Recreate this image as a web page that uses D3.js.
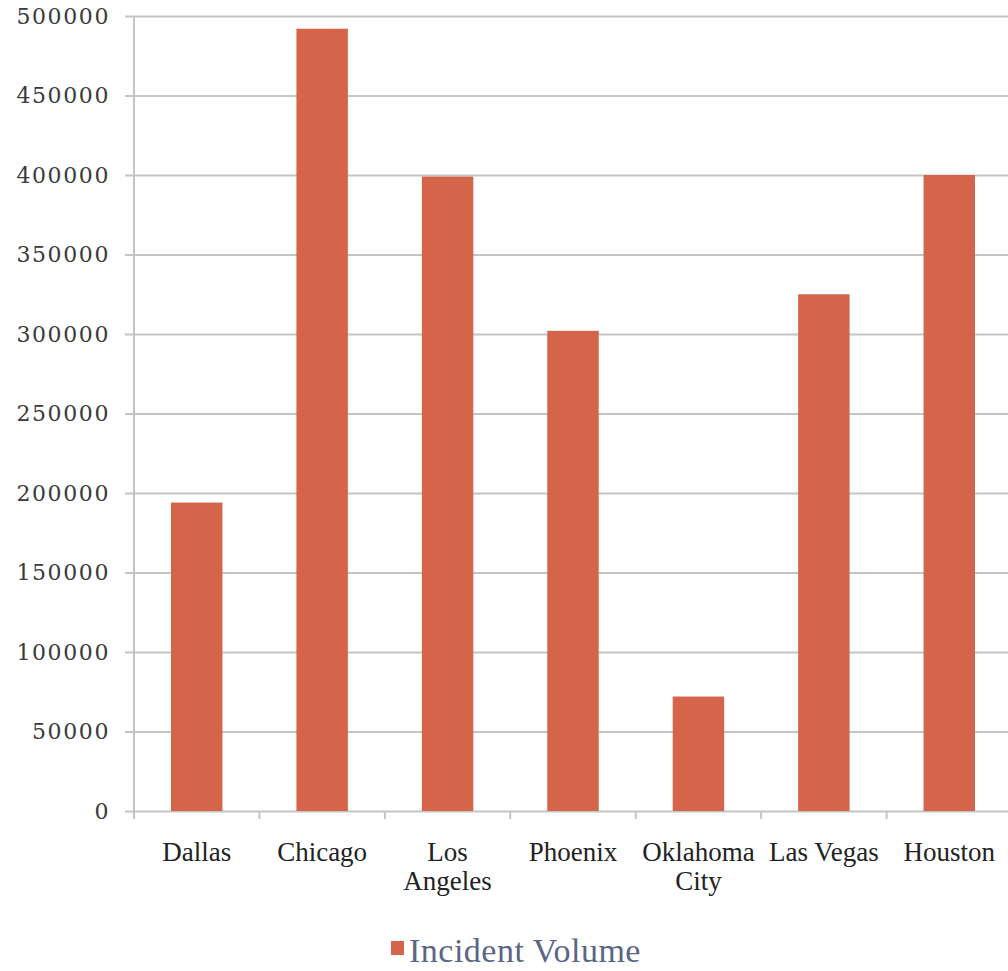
<!DOCTYPE html>
<html>
<head>
<meta charset="utf-8">
<script src="https://cdn.jsdelivr.net/npm/d3@7"></script>
<style>
  body { margin: 0; background: #fff; }
  svg { display: block; }
</style>
</head>
<body>
<svg width="1008" height="971"></svg>
<script>
// values
const cities = ['Dallas', 'Chicago', 'Los Angeles', 'Phoenix', 'Oklahoma City', 'Las Vegas', 'Houston'];
const cityLines = [['Dallas'], ['Chicago'], ['Los', 'Angeles'], ['Phoenix'], ['Oklahoma', 'City'], ['Las Vegas'], ['Houston']];
const incidents = [194000, 492000, 399000, 302000, 72000, 325000, 400000];
const yTicks = [0, 50000, 100000, 150000, 200000, 250000, 300000, 350000, 400000, 450000, 500000];
const seriesName = 'Incident Volume';

const barColor = '#d4644a';
const gridColor = '#c4c4c4';

const svg = d3.select('svg');

const x = d3.scaleBand()
  .domain(cities)
  .range([134, 1012])
  .paddingInner(0.59)
  .paddingOuter(0.295);

const y = d3.scaleLinear()
  .domain([0, 500000])
  .range([811, 16]);

// gridlines + y labels
const yAxis = svg.append('g')
  .attr('transform', 'translate(134,0)')
  .call(d3.axisLeft(y).tickValues(yTicks).tickSize(-(1008 - 134)).tickPadding(0).tickFormat(d3.format('d')));

yAxis.select('.domain').remove();
yAxis.selectAll('.tick line')
  .attr('x1', -9)
  .attr('stroke', gridColor)
  .attr('stroke-width', 2);
yAxis.selectAll('.tick text')
  .attr('x', -24)
  .attr('dy', '0.32em')
  .style('font-family', '"DejaVu Serif", serif')
  .style('font-size', '22px')
  .style('letter-spacing', '1.6px')
  .attr('fill', '#3a3a3a');

// y axis line
svg.append('line')
  .attr('x1', 134).attr('x2', 134)
  .attr('y1', y(500000)).attr('y2', 818)
  .attr('stroke', gridColor)
  .attr('stroke-width', 2);

// bars
svg.append('g')
  .selectAll('rect')
  .data(incidents)
  .enter().append('rect')
  .attr('x', function (d, i) { return x(cities[i]); })
  .attr('y', function (d) { return y(d); })
  .attr('width', x.bandwidth())
  .attr('height', function (d) { return y(0) - y(d); })
  .attr('fill', barColor);

// x axis ticks between bands
const step = x.step();
const bounds = d3.range(cities.length + 1).map(function (i) { return 134 + i * step; });
svg.append('g')
  .selectAll('line')
  .data(bounds)
  .enter().append('line')
  .attr('x1', function (d) { return d; })
  .attr('x2', function (d) { return d; })
  .attr('y1', y(0))
  .attr('y2', y(0) + 8)
  .attr('stroke', gridColor)
  .attr('stroke-width', 2);

// category labels
const labels = svg.append('g')
  .selectAll('text')
  .data(cities)
  .enter().append('text')
  .attr('x', function (d) { return x(d) + x.bandwidth() / 2; })
  .attr('y', 861)
  .attr('text-anchor', 'middle')
  .style('font-family', '"Liberation Serif", "Times New Roman", serif')
  .style('font-size', '27px')
  .attr('fill', '#222');

labels.each(function (d, i) {
  const t = d3.select(this);
  cityLines[i].forEach(function (line, j) {
    t.append('tspan')
      .attr('x', x(d) + x.bandwidth() / 2)
      .attr('dy', j === 0 ? 0 : 29)
      .text(line);
  });
});

// legend
const legend = svg.append('g');
legend.append('rect')
  .attr('x', 391).attr('y', 941)
  .attr('width', 13).attr('height', 14)
  .attr('fill', barColor);
legend.append('text')
  .attr('x', 409)
  .attr('y', 962)
  .style('font-family', '"Liberation Serif", "Times New Roman", serif')
  .style('font-size', '34px')
  .style('letter-spacing', '0.5px')
  .attr('fill', '#5b6585')
  .text(seriesName);
</script>
</body>
</html>
